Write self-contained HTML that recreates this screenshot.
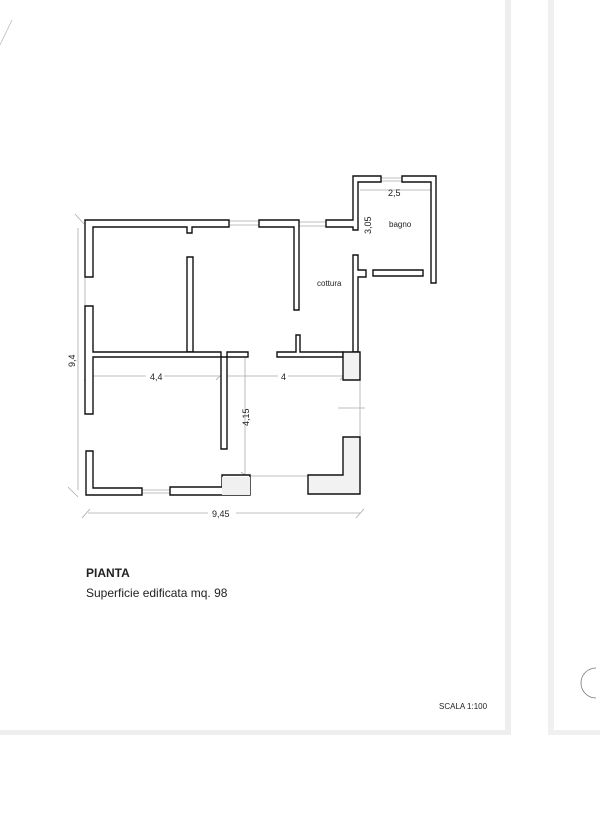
<!DOCTYPE html>
<html><head><meta charset="utf-8"><style>
html,body{margin:0;padding:0;background:#fff;}
svg{display:block;}
text{font-family:"Liberation Sans",sans-serif;fill:#222;}
</style></head><body>
<svg width="600" height="817" viewBox="0 0 600 817" xmlns="http://www.w3.org/2000/svg">
<rect width="600" height="817" fill="#fff"/>
<rect x="505" y="0" width="6" height="735" fill="#eeeeee"/>
<rect x="0" y="730" width="511" height="5" fill="#eeeeee"/>
<rect x="548" y="0" width="6" height="735" fill="#f0f0f0"/>
<rect x="554" y="730" width="46" height="5" fill="#f0f0f0"/>
<path d="M596 668 A14 14 0 0 0 596 698" fill="none" stroke="#777" stroke-width="0.8"/>
<line x1="0" y1="45" x2="12" y2="20" stroke="#bbb" stroke-width="0.8"/>

<g stroke="#aaa" stroke-width="0.8" fill="none">
<line x1="75" y1="214" x2="84" y2="224"/>
<line x1="78" y1="228" x2="78" y2="490"/>
<line x1="68" y1="487" x2="78" y2="497"/>
<line x1="88" y1="376" x2="360" y2="376"/>
<line x1="84" y1="380" x2="92" y2="372"/>
<line x1="216" y1="380" x2="224" y2="372"/>
<line x1="340" y1="380" x2="348" y2="372"/>
<line x1="245" y1="357" x2="245" y2="475"/>
<line x1="241" y1="472" x2="250" y2="479"/>
<line x1="88" y1="513" x2="360" y2="513"/>
<line x1="82" y1="518" x2="90" y2="509"/>
<line x1="356" y1="518" x2="364" y2="509"/>
<line x1="360" y1="190" x2="432" y2="190"/>
<line x1="299" y1="222" x2="326" y2="222"/>
<line x1="299" y1="226" x2="326" y2="226"/>
<line x1="381" y1="178" x2="402" y2="178"/>
<line x1="381" y1="181" x2="402" y2="181"/>
<line x1="229" y1="221" x2="259" y2="221"/>
<line x1="229" y1="225" x2="259" y2="225"/>
<line x1="124" y1="223" x2="152" y2="223"/>
<line x1="142" y1="490" x2="170" y2="490"/>
<line x1="142" y1="493" x2="170" y2="493"/>
<line x1="360" y1="380" x2="360" y2="437"/>
<line x1="338" y1="408" x2="365" y2="408"/>
<line x1="250" y1="476" x2="308" y2="476"/>
<line x1="358" y1="282" x2="358" y2="350"/>
<line x1="85" y1="277" x2="85" y2="306"/>
</g>

<g fill="#fff" stroke="#111" stroke-width="1.4">
<path d="M85 220 H229 V227 H192 V233 H187 V227 H93 V277 H85 Z"/>
<path d="M259 220 H299 V310 H294 V227 H259 Z"/>
<path d="M326 220 H353 V176 H381 V182 H358 V230 H353 V227 H326 Z"/>
<path d="M402 176 H436 V283 H431 V182 H402 Z"/>
<path d="M373 270 H423 V276 H373 Z"/>
<path d="M353 255 H358 V270 H366 V277 H358 V352 H353 Z"/>
<path d="M187 257 H193 V352 H187 Z"/>
<path d="M85 306 H93 V352 H221 V357 H93 V414 H85 Z"/>
<path d="M221 357 H227 V449 H221 Z"/>
<path d="M227 352 H248 V357 H227 Z"/>
<path d="M277 352 H296 V335 H300 V352 H343 V357 H277 Z"/>
<path d="M343 352 H360 V380 H343 Z" fill="#f2f2f2"/>
<path d="M86 451 H93 V488 H142 V495 H86 Z"/>
<path d="M170 487 H222 V475 H250 V495 H170 Z"/>
<path d="M222 477 H250 V495 H222 Z" fill="#f0f0f0" stroke="none"/>
<path d="M343 437 H360 V494 H308 V475 H343 Z" fill="#f2f2f2"/>
</g>

<g font-size="9">
<text x="388" y="196">2,5</text>
<text x="389" y="227" font-size="8">bagno</text>
<text x="371" y="234" transform="rotate(-90 371 234)">3,05</text>
<text x="317" y="286" font-size="8">cottura</text>
<text x="75" y="367" transform="rotate(-90 75 367)">9,4</text>
<text x="249" y="426" transform="rotate(-90 249 426)">4,15</text>
</g>
<rect x="208" y="508" width="28" height="10" fill="#fff"/>
<text x="212" y="517" font-size="9">9,45</text>
<rect x="146" y="371" width="18" height="10" fill="#fff"/>
<text x="150" y="380" font-size="9">4,4</text>
<rect x="278" y="371" width="10" height="10" fill="#fff"/>
<text x="281" y="380" font-size="9">4</text>
<text x="86" y="577" font-size="12" font-weight="bold">PIANTA</text>
<text x="86" y="597" font-size="12">Superficie edificata mq. 98</text>
<text x="439" y="709" font-size="8">SCALA 1:100</text>
</svg>
</body></html>
